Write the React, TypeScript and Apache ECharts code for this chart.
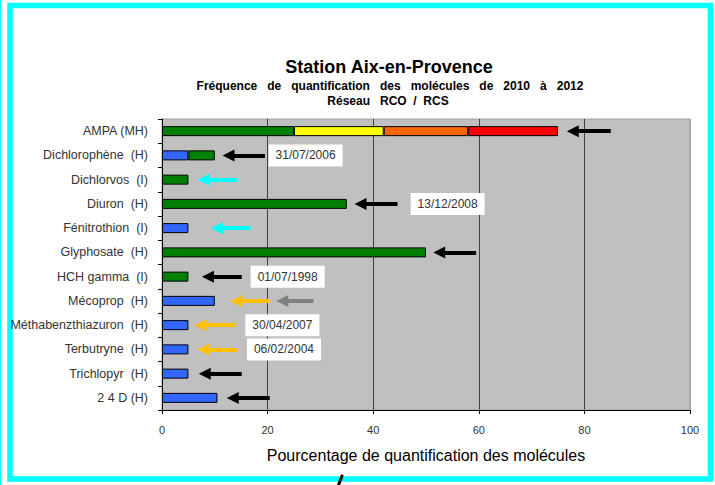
import React, { useEffect, useRef } from "react";
import * as echarts from "echarts";

const categories = [
  "AMPA (MH)",
  "Dichlorophène  (H)",
  "Dichlorvos  (I)",
  "Diuron  (H)",
  "Fénitrothion  (I)",
  "Glyphosate  (H)",
  "HCH gamma  (I)",
  "Mécoprop  (H)",
  "Méthabenzthiazuron  (H)",
  "Terbutryne  (H)",
  "Trichlopyr  (H)",
  "2 4 D (H)",
];

// stacked segments (percent)
const blueValues = [0, 5, 0, 0, 5, 0, 0, 10, 5, 5, 5, 10.5];
const greenValues = [25, 5, 5, 35, 0, 50, 5, 0, 0, 0, 0, 0];
const yellowValues = [17, 0, 0, 0, 0, 0, 0, 0, 0, 0, 0, 0];
const orangeValues = [16, 0, 0, 0, 0, 0, 0, 0, 0, 0, 0, 0];
const redValues = [17, 0, 0, 0, 0, 0, 0, 0, 0, 0, 0, 0];

const xTicks = [0, 20, 40, 60, 80, 100];

// arrows: category index, tail value, tip value, colour
const arrowCategory = [0, 1, 2, 3, 4, 5, 6, 7, 7, 8, 9, 10, 11];
const arrowTail = [85, 19.5, 14.2, 44.6, 16.8, 59.5, 15.1, 20.4, 28.7, 13.8, 14.4, 15.1, 20.4];
const arrowTip = [76.7, 11.5, 6.8, 36.5, 9.3, 51.4, 7.6, 13, 21.7, 6.2, 6.8, 7, 12.3];
const arrowColor = [
  "#000000", "#000000", "#00FFFF", "#000000", "#00FFFF", "#000000", "#000000",
  "#FFC000", "#808080", "#FFC000", "#FFC000", "#000000", "#000000",
];

// date boxes
const dateText = ["31/07/2006", "13/12/2008", "01/07/1998", "30/04/2007", "06/02/2004"];
const dateCategory = [1, 3, 6, 8, 9];
const dateX = [27.2, 54.1, 23.8, 22.8, 23.1];

const FONT = "Arial, 'Liberation Sans', sans-serif";

function seg(arr: number[]) {
  return arr.map((v) => (v === 0 ? "-" : v));
}

export default function App() {
  const ref = useRef<HTMLDivElement>(null);
  useEffect(() => {
    document.body.style.margin = "0";
    const chart = echarts.init(ref.current!, null, { renderer: "svg" });
    const barCommon = {
      type: "bar",
      stack: "total",
      barWidth: 10,
      itemStyle: { borderColor: "#000", borderWidth: 1 },
    };
    const tipOffset = 1.1;
    chart.setOption({
      animation: false,
      backgroundColor: "#ffffff",
      grid: {
        left: 162,
        right: 25,
        top: 119,
        bottom: 75,
        show: true,
        backgroundColor: "#C0C0C0",
        borderColor: "#A0A0A0",
        borderWidth: 1,
      },
      xAxis: {
        type: "value",
        min: xTicks[0],
        max: xTicks[xTicks.length - 1],
        interval: 20,
        axisLine: { show: true, lineStyle: { color: "#000", width: 1 } },
        axisTick: { show: true, length: 4, lineStyle: { color: "#000" } },
        axisLabel: { fontSize: 11, color: "#333", margin: 14, fontFamily: FONT },
        splitLine: {
          show: true,
          lineStyle: {
            color: ["#404040", "#404040", "#404040", "#404040", "#404040", "#A0A0A0"],
            width: 1,
          },
        },
        name: "Pourcentage de quantification des molécules",
        nameLocation: "middle",
        nameGap: 37,
        nameTextStyle: { fontSize: 16, color: "#000", fontFamily: FONT },
      },
      yAxis: {
        type: "category",
        inverse: true,
        data: categories,
        axisLine: { show: true, lineStyle: { color: "#000", width: 1 } },
        axisTick: { show: true, length: 4, lineStyle: { color: "#000" } },
        axisLabel: { fontSize: 12.5, color: "#333", margin: 14, fontFamily: FONT },
        splitLine: { show: false },
      },
      graphic: [
        {
          type: "text",
          x: 389,
          y: 67,
          style: {
            text: "Station Aix-en-Provence",
            textAlign: "center",
            textVerticalAlign: "middle",
            font: `bold 18px ${FONT}`,
            fill: "#000",
          },
        },
        {
          type: "text",
          x: 390,
          y: 86,
          style: {
            text: "Fréquence   de   quantification   des   molécules   de   2010   à   2012",
            textAlign: "center",
            textVerticalAlign: "middle",
            font: `bold 12px ${FONT}`,
            fill: "#000",
          },
        },
        {
          type: "text",
          x: 388,
          y: 101,
          style: {
            text: "Réseau   RCO  /  RCS",
            textAlign: "center",
            textVerticalAlign: "middle",
            font: `bold 12px ${FONT}`,
            fill: "#000",
          },
        },
        {
          type: "rect",
          shape: { x: 10, y: 5.5, width: 700.5, height: 473.5 },
          style: { fill: "none", stroke: "#00FFFF", lineWidth: 5.5 },
          silent: true,
        },
        {
          type: "line",
          shape: { x1: 0.5, y1: 0, x2: 0.5, y2: 485 },
          style: { stroke: "#00FFFF", lineWidth: 1 },
          silent: true,
        },
        {
          type: "line",
          shape: { x1: 342, y1: 476, x2: 338.5, y2: 485 },
          style: { stroke: "#000", lineWidth: 3, lineCap: "round" },
          silent: true,
        },
      ],
      series: [
        { ...barCommon, name: "blue", data: seg(blueValues), itemStyle: { ...barCommon.itemStyle, color: "#3366FF" } },
        { ...barCommon, name: "green", data: seg(greenValues), itemStyle: { ...barCommon.itemStyle, color: "#008000" } },
        { ...barCommon, name: "yellow", data: seg(yellowValues), itemStyle: { ...barCommon.itemStyle, color: "#FFFF00" } },
        { ...barCommon, name: "orange", data: seg(orangeValues), itemStyle: { ...barCommon.itemStyle, color: "#FF6600" } },
        { ...barCommon, name: "red", data: seg(redValues), itemStyle: { ...barCommon.itemStyle, color: "#FF0000" } },
        {
          type: "lines",
          coordinateSystem: "cartesian2d",
          z: 5,
          symbol: ["none", "triangle"],
          symbolSize: [0, 12],
          data: arrowCategory.map((c, i) => ({
            coords: [
              [arrowTail[i], c],
              [arrowTip[i] + tipOffset, c],
            ],
            lineStyle: { color: arrowColor[i], width: 4, opacity: 1 },
          })),
          lineStyle: { width: 4, opacity: 1, curveness: 0 },
        },
        {
          type: "scatter",
          z: 6,
          symbolSize: 1,
          itemStyle: { color: "transparent", opacity: 1 },
          data: dateCategory.map((c, i) => ({ value: [dateX[i], c], name: dateText[i] })),
          label: {
            show: true,
            position: "inside",
            formatter: "{b}",
            backgroundColor: "#ffffff",
            padding: [5, 7, 5, 7],
            fontSize: 12,
            color: "#333",
            opacity: 1,
            fontFamily: FONT,
          },
        },
      ],
    });
    return () => chart.dispose();
  }, []);
  return (
    <div
      ref={ref}
      style={{ position: "fixed", left: 0, top: 0, width: 715, height: 485 }}
    />
  );
}
